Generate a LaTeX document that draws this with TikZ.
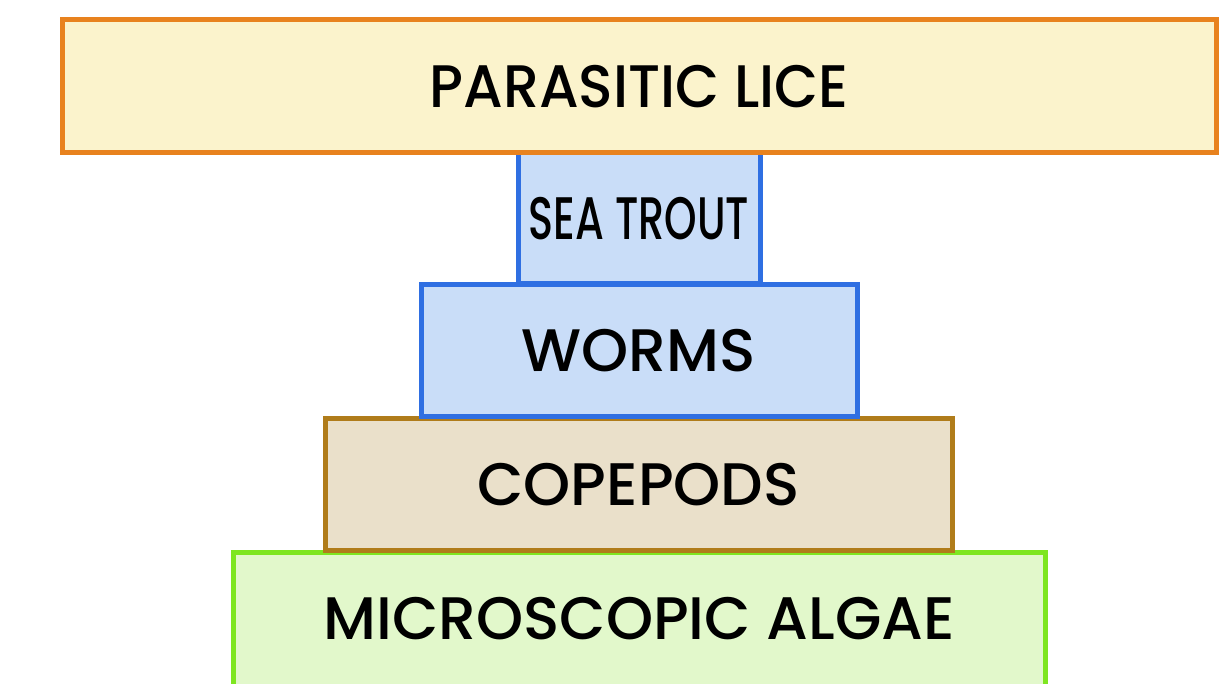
\documentclass[tikz,border=0pt]{standalone}
\usepackage{fontspec}
\setmainfont{Poppins}[UprightFont=* Medium]
\usepackage{graphicx}

\definecolor{liceline}{RGB}{232,130,30}
\definecolor{licefill}{RGB}{251,243,204}
\definecolor{troutline}{RGB}{47,111,226}
\definecolor{troutfill}{RGB}{201,221,248}
\definecolor{podline}{RGB}{176,124,26}
\definecolor{podfill}{RGB}{234,224,202}
\definecolor{algaeline}{RGB}{126,230,32}
\definecolor{algaefill}{RGB}{226,248,203}

\newcommand{\narrowtext}[2]{\scalebox{#1}[1]{#2}}

\tikzset{
  tier/.style={rectangle, line width=2.5pt, inner sep=0pt, text=black,
    font=\fontsize{30}{30}\selectfont},
}

\begin{document}
\begin{tikzpicture}[x=0.5pt, y=-0.5pt]
\useasboundingbox (0,0) rectangle (1222,684);
\clip (0,0) rectangle (1222,684);

% bottom layer first, each tier covers the top edge of the one below
\node[tier, draw=algaeline, fill=algaefill, minimum width=406pt, minimum height=67pt] (algae) at (639,619) {MICROSCOPIC ALGAE};
\node[tier, draw=podline, fill=podfill, minimum width=313.5pt, minimum height=65.5pt] (copepods) at (638.5,484.5) {COPEPODS};
\node[tier, draw=troutline, fill=troutfill, minimum width=218pt, minimum height=66pt] (worms) at (639,351) {WORMS};
\node[tier, draw=troutline, fill=troutfill, minimum width=121pt, minimum height=65.5pt] (trout) at (639,218.5) {\narrowtext{0.69}{SEA TROUT}};
\node[tier, draw=liceline, fill=licefill, minimum width=577pt, minimum height=66.5pt] (lice) at (639,86.5) {\narrowtext{0.95}{PARASITIC LICE}};
\end{tikzpicture}
\end{document}
